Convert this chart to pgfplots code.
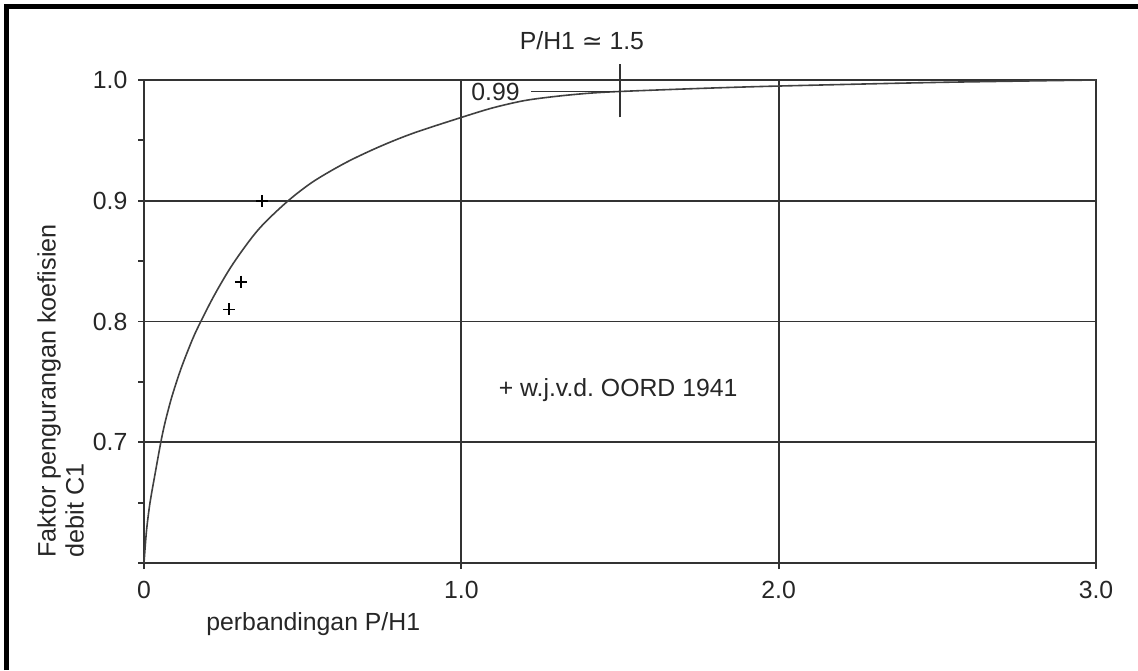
\documentclass[border=0pt]{standalone}
\usepackage{pgfplots}
\pgfplotsset{compat=1.18}
\usepackage{fontspec}
\setmainfont{Liberation Sans}
\newfontfamily\djv{DejaVu Sans}

% curve C1 = f(P/H1)
\pgfplotstableread{
x y
0 0.600
0.008 0.627
0.019 0.650
0.035 0.674
0.053 0.700
0.066 0.716
0.087 0.737
0.114 0.759
0.140 0.777
0.166 0.793
0.220 0.821
0.281 0.848
0.360 0.876
0.450 0.899
0.534 0.916
0.639 0.932
0.744 0.945
0.849 0.956
1.000 0.969
1.100 0.977
1.200 0.983
1.300 0.9865
1.400 0.989
1.500 0.9905
1.750 0.993
2.000 0.995
2.500 0.998
3.000 1.000
}\curvedata

% measurements w.j.v.d. Oord 1941
\pgfplotstableread{
x y
0.372 0.900
0.305 0.833
0.268 0.810
}\oorddata

\begin{document}
\fontsize{12.4}{14}\selectfont
\begin{tikzpicture}
\useasboundingbox (-72pt,-53.5pt) rectangle (497pt,281.5pt);
\begin{axis}[
    at={(0,0)}, anchor=south west,
    scale only axis,
    width=476pt, height=241.5pt,
    xmin=0, xmax=3, ymin=0.6, ymax=1.0,
    axis line style={black!80, line width=0.9pt},
    tick style={black!80, line width=0.9pt},
    tick align=outside, tick pos=left,
    major tick length=3pt,
    xtick={0,1,2,3}, xticklabels={0,1.0,2.0,3.0},
    ytick={0.7,0.8,0.9,1.0}, yticklabels={0.7,0.8,0.9,1.0},
    extra y ticks={0.6,0.65,0.75,0.85,0.95},
    extra y tick labels={},
    extra y tick style={grid=none},
    grid=major,
    grid style={black!80, line width=0.9pt},
    ticklabel style={font=\fontsize{12.4}{14}\selectfont, text=black!85},
    /pgf/number format/assume math mode=true,
    xticklabel style={yshift=-2pt},
    yticklabel style={xshift=-1pt},
    clip=false,
]
\addplot[black!75, line width=0.8pt, smooth] table[x=x, y=y] {\curvedata};
\addplot[only marks, mark=+, mark size=3pt, black, line width=0.9pt] table[x=x, y=y] {\oorddata};
% P/H1 = 1.5 marker and 0.99 leader
\addplot[black!80, line width=0.8pt] coordinates {(1.5,0.969) (1.5,1.013)};
\addplot[black!80, line width=0.7pt] coordinates {(1.22,0.9905) (1.5,0.9905)};
\node[anchor=east, inner sep=0pt, text=black!85] at (axis cs:1.185,0.9905) {0.99};
\node[inner sep=0pt, text=black!85] at (axis cs:1.38,1.033) {P/H1 {\djv ≃} 1.5};
\node[inner sep=0pt, text=black!85] at (axis cs:1.494,0.743) {+ w.j.v.d.\ OORD 1941};
\end{axis}
\node[rotate=90, anchor=north west, align=left, inner sep=0pt, text=black!85,
      font=\fontsize{12.6}{14}\selectfont] at (-53.5pt,2.5pt)
    {Faktor pengurangan koefisien\\debit C1};
\node[anchor=base west, inner sep=0pt, text=black!85] at (31pt,-33.5pt) {perbandingan P/H1};
\draw[black, line width=2.5pt] (-68.5pt,-53.5pt) -- (-68.5pt,278pt) -- (497pt,278pt);
\end{tikzpicture}
\end{document}
